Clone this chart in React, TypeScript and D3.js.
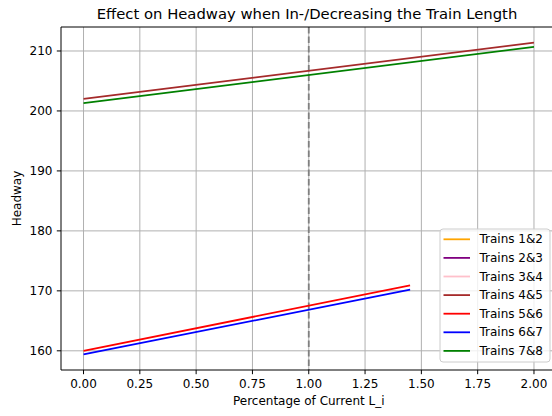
import React from "react";
import * as d3 from "d3";

// Series: pairs of adjacent trains, headway vs. fraction of current train length
const seriesNames = ["Trains 1&2", "Trains 2&3", "Trains 3&4", "Trains 4&5", "Trains 5&6", "Trains 6&7", "Trains 7&8"];
const seriesColors = ["orange", "purple", "pink", "brown", "red", "blue", "green"];

const xLong = [0, 2.0];
const xShort = [0, 1.45];

const trains12: number[] = [];
const trains23: number[] = [];
const trains34: number[] = [];
const trains45 = [202.0, 211.4];
const trains56 = [160.0, 170.9];
const trains67 = [159.4, 170.2];
const trains78 = [201.3, 210.7];

const seriesX = [xLong, xLong, xLong, xLong, xShort, xShort, xLong];
const seriesY = [trains12, trains23, trains34, trains45, trains56, trains67, trains78];

const xTicks = [0, 0.25, 0.5, 0.75, 1.0, 1.25, 1.5, 1.75, 2.0];
const yTicks = [160, 170, 180, 190, 200, 210];
const referenceX = 1.0;

const W = 552;
const H = 416;
const left = 61;
const right = 556.5;
const top = 27;
const bottom = 370;
const font = "DejaVu Sans";

export default function App() {
  const allY = seriesY.flat();
  const [yMin, yMax] = d3.extent(allY) as [number, number];
  const yPad = (yMax - yMin) * 0.05;
  const xPad = (2.0 - 0) * 0.05;

  const x = d3.scaleLinear().domain([0 - xPad, 2.0 + xPad]).range([left, right]);
  const y = d3.scaleLinear().domain([yMin - yPad, yMax + yPad]).range([bottom, top]);

  const line = d3
    .line<[number, number]>()
    .x((d) => x(d[0]))
    .y((d) => y(d[1]));

  const legendX = 440;
  const legendY = 229;
  const rowH = 18.6;

  return (
    <svg
      width={W}
      height={H}
      style={{ position: "absolute", left: 0, top: 0, display: "block", background: "white" }}
      fontFamily={font}
    >
      <defs>
        <clipPath id="plotArea">
          <rect x={left} y={top} width={right - left} height={bottom - top} />
        </clipPath>
      </defs>
      <rect x={0} y={0} width={W} height={H} fill="white" />

      {/* grid */}
      <g stroke="#b0b0b0" strokeWidth={1}>
        {xTicks.map((t) => (
          <line key={"gx" + t} x1={x(t)} x2={x(t)} y1={top} y2={bottom} />
        ))}
        {yTicks.map((t) => (
          <line key={"gy" + t} x1={left} x2={right} y1={y(t)} y2={y(t)} />
        ))}
      </g>

      {/* reference line at current length */}
      <line
        x1={x(referenceX)}
        x2={x(referenceX)}
        y1={top}
        y2={bottom}
        stroke="gray"
        strokeWidth={1.8}
        strokeDasharray="6.6,2.9"
      />

      {/* series */}
      <g clipPath="url(#plotArea)" fill="none" strokeWidth={1.8}>
        {seriesY.map((ys, i) =>
          ys.length ? (
            <path
              key={seriesNames[i]}
              d={line(ys.map((v, j) => [seriesX[i][j], v] as [number, number])) || ""}
              stroke={seriesColors[i]}
            />
          ) : null
        )}
      </g>

      {/* axes spines */}
      <g stroke="black" strokeWidth={1}>
        <line x1={left} x2={left} y1={top} y2={bottom} />
        <line x1={left} x2={right} y1={bottom} y2={bottom} />
        <line x1={left} x2={right} y1={top} y2={top} />
      </g>

      {/* ticks */}
      <g fontSize={12} fill="black">
        {xTicks.map((t) => (
          <g key={"xt" + t}>
            <line x1={x(t)} x2={x(t)} y1={bottom} y2={bottom + 4.2} stroke="black" strokeWidth={1} />
            <text x={x(t)} y={388} textAnchor="middle">
              {d3.format(".2f")(t)}
            </text>
          </g>
        ))}
        {yTicks.map((t) => (
          <g key={"yt" + t}>
            <line x1={left - 4.2} x2={left} y1={y(t)} y2={y(t)} stroke="black" strokeWidth={1} />
            <text x={52.5} y={y(t)} textAnchor="end" dominantBaseline="central">
              {t}
            </text>
          </g>
        ))}
      </g>

      {/* labels */}
      <text x={(left + right) / 2} y={405} textAnchor="middle" fontSize={12} fill="black">
        Percentage of Current L_i
      </text>
      <text
        transform={`translate(17,${(top + bottom) / 2}) rotate(-90)`}
        textAnchor="middle"
        dominantBaseline="central"
        fontSize={12}
        fill="black"
      >
        Headway
      </text>
      <text x={307} y={18.5} textAnchor="middle" fontSize={14.8} fill="black">
        Effect on Headway when In-/Decreasing the Train Length
      </text>

      {/* legend */}
      <g>
        <rect
          x={legendX}
          y={legendY}
          width={110}
          height={133}
          rx={3}
          fill="white"
          fillOpacity={0.8}
          stroke="#cccccc"
          strokeWidth={1}
        />
        {seriesNames.map((name, i) => {
          const cy = legendY + 10.3 + i * rowH;
          return (
            <g key={"lg" + name}>
              <line x1={443.5} x2={470} y1={cy} y2={cy} stroke={seriesColors[i]} strokeWidth={1.8} />
              <text x={479.5} y={cy} fontSize={12} dominantBaseline="central" fill="black">
                {name}
              </text>
            </g>
          );
        })}
      </g>
    </svg>
  );
}
